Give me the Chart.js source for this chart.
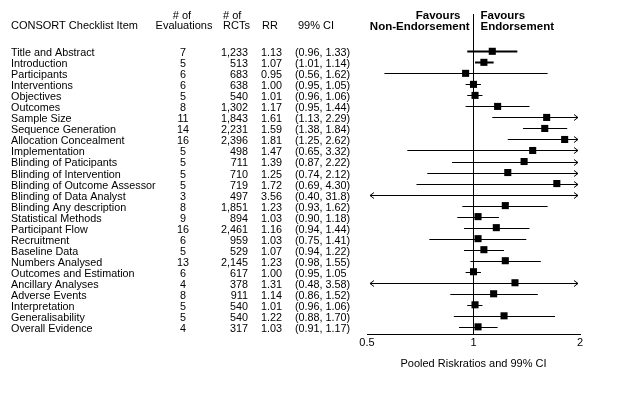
<!DOCTYPE html>
<html><head><meta charset="utf-8">
<script src="https://cdn.jsdelivr.net/npm/chart.js@4/dist/chart.umd.min.js"></script>
<style>html,body{margin:0;padding:0;background:#fff}#wrap{width:633px;height:405px;position:relative}</style>
</head><body><div id="wrap"><canvas id="c" width="633" height="405"></canvas></div>
<script>
const items = ["Title and Abstract","Introduction","Participants","Interventions","Objectives","Outcomes","Sample Size","Sequence Generation","Allocation Concealment","Implementation","Blinding of Paticipants","Blinding of Intervention","Blinding of Outcome Assessor","Blinding of Data Analyst","Blinding Any description","Statistical Methods","Participant Flow","Recruitment","Baseline Data","Numbers Analysed","Outcomes and Estimation","Ancillary Analyses","Adverse Events","Interpretation","Generalisability","Overall Evidence"];
const evaluations = [7,5,6,6,5,8,11,14,16,5,5,5,5,3,8,9,16,6,5,13,6,4,8,5,5,4];
const rcts = [1233,513,683,638,540,1302,1843,2231,2396,498,711,710,719,497,1851,894,2461,959,529,2145,617,378,911,540,540,317];
const rr = [1.13,1.07,0.95,1.00,1.01,1.17,1.61,1.59,1.81,1.47,1.39,1.25,1.72,3.56,1.23,1.03,1.16,1.03,1.07,1.23,1.00,1.31,1.14,1.01,1.22,1.03];
const ciLow = [0.96,1.01,0.56,0.95,0.96,0.95,1.13,1.38,1.25,0.65,0.87,0.74,0.69,0.40,0.93,0.90,0.94,0.75,0.94,0.98,0.95,0.48,0.86,0.96,0.88,0.91];
const ciHigh = [1.33,1.14,1.62,1.05,1.06,1.44,2.29,1.84,2.62,3.32,2.22,2.12,4.30,31.8,1.62,1.18,1.44,1.41,1.22,1.55,1.05,3.58,1.52,1.06,1.70,1.17];
const ciLabels = ["(0.96, 1.33)","(1.01, 1.14)","(0.56, 1.62)","(0.95, 1.05)","(0.96, 1.06)","(0.95, 1.44)","(1.13, 2.29)","(1.38, 1.84)","(1.25, 2.62)","(0.65, 3.32)","(0.87, 2.22)","(0.74, 2.12)","(0.69, 4.30)","(0.40, 31.8)","(0.93, 1.62)","(0.90, 1.18)","(0.94, 1.44)","(0.75, 1.41)","(0.94, 1.22)","(0.98, 1.55)","(0.95, 1.05","(0.48, 3.58)","(0.86, 1.52)","(0.96, 1.06)","(0.88, 1.70)","(0.91, 1.17)"];
const xTicks = [0.5, 1, 2];
const xMin = 0.5, xMax = 2;

const FONT = '"Liberation Sans", Arial, sans-serif';

const forest = {
  id: 'forest',
  beforeDatasetsDraw(chart) {
    const ctx = chart.ctx, xs = chart.scales.x, ys = chart.scales.y;
    ctx.save();
    ctx.strokeStyle = '#000';
    for (let i = 0; i < items.length; i++) {
      const y = Math.round(ys.getPixelForValue(i)) + 0.5;
      const lo = Math.max(ciLow[i], xMin), hi = Math.min(ciHigh[i], xMax);
      let x1 = xs.getPixelForValue(lo), x2 = xs.getPixelForValue(hi);
      const leftArrow = ciLow[i] < xMin, rightArrow = ciHigh[i] > xMax;
      if (leftArrow) x1 += 3;
      if (rightArrow) x2 -= 2;
      ctx.lineWidth = i < 2 ? 2 : 1;
      ctx.beginPath(); ctx.moveTo(x1, y); ctx.lineTo(x2, y); ctx.stroke();
      ctx.lineWidth = 1;
      if (rightArrow) {
        ctx.beginPath(); ctx.moveTo(x2 - 4, y - 3); ctx.lineTo(x2, y); ctx.lineTo(x2 - 4, y + 3); ctx.stroke();
      }
      if (leftArrow) {
        ctx.beginPath(); ctx.moveTo(x1 + 4, y - 3); ctx.lineTo(x1, y); ctx.lineTo(x1 + 4, y + 3); ctx.stroke();
      }
    }
    ctx.restore();
  },
  afterDraw(chart) {
    const ctx = chart.ctx, ys = chart.scales.y, xs = chart.scales.x;
    ctx.save();
    ctx.fillStyle = '#000';
    ctx.textBaseline = 'middle';
    ctx.font = '11px ' + FONT;
    // header
    ctx.textAlign = 'left';
    ctx.fillText('CONSORT Checklist Item', 11, 26);
    ctx.textAlign = 'center';
    ctx.fillText('# of', 182, 16);
    ctx.fillText('Evaluations', 184, 26);
    ctx.textAlign = 'left';
    ctx.fillText('# of', 223, 16);
    ctx.fillText('RCTs', 223, 26);
    ctx.fillText('RR', 262, 26);
    ctx.fillText('99% CI', 298, 26);
    // favours
    ctx.font = 'bold 11.5px ' + FONT;
    const x1 = xs.getPixelForValue(1);
    ctx.textAlign = 'right';
    ctx.fillText('Favours', x1 - 13, 16);
    ctx.fillText('Non-Endorsement', x1 - 4, 27);
    ctx.textAlign = 'left';
    ctx.fillText('Favours', x1 + 7, 16);
    ctx.fillText('Endorsement', x1 + 7, 27);
    // rows
    ctx.font = '10.8px ' + FONT;
    for (let i = 0; i < items.length; i++) {
      const y = ys.getPixelForValue(i) + 2;
      ctx.textAlign = 'left';
      ctx.fillText(items[i], 11, y);
      ctx.textAlign = 'center';
      ctx.fillText(String(evaluations[i]), 183, y);
      ctx.textAlign = 'right';
      ctx.fillText(rcts[i].toLocaleString('en-US'), 248, y);
      ctx.textAlign = 'left';
      ctx.fillText(rr[i].toFixed(2), 261, y);
      ctx.fillText(ciLabels[i], 295, y);
    }
    ctx.restore();
  }
};

new Chart(document.getElementById('c'), {
  type: 'scatter',
  data: {
    datasets: [{
      data: rr.map((v, i) => ({ x: v, y: i })),
      pointStyle: 'rect',
      pointRadius: 5,
      pointHoverRadius: 5,
      backgroundColor: '#000',
      borderColor: '#000',
      borderWidth: 0
    }]
  },
  options: {
    responsive: false,
    animation: false,
    devicePixelRatio: 1,
    layout: { padding: { left: 367, right: 53, top: 14, bottom: 0 } },
    plugins: { legend: { display: false }, tooltip: { enabled: false } },
    scales: {
      x: {
        type: 'logarithmic',
        min: xMin, max: xMax,
        afterBuildTicks: s => { s.ticks = xTicks.map(v => ({ value: v })); },
        afterFit: s => { s.height = 71; },
        ticks: {
          autoSkip: false, maxRotation: 0, padding: 2, color: '#000',
          font: { family: FONT, size: 11 },
          callback: v => String(v)
        },
        grid: {
          drawTicks: false,
          color: c => (c.tick && c.tick.value === 1) ? '#000' : 'rgba(0,0,0,0)',
          lineWidth: 1
        },
        border: { display: true, color: '#000', width: 1 },
        title: {
          display: true, text: 'Pooled Riskratios and 99% CI', color: '#000',
          font: { family: FONT, size: 11 },
          padding: { top: 4, bottom: 34 }
        }
      },
      y: {
        type: 'linear', display: false, reverse: true,
        min: -3.385, max: 25.65
      }
    }
  },
  plugins: [forest]
});
</script>
</body></html>
